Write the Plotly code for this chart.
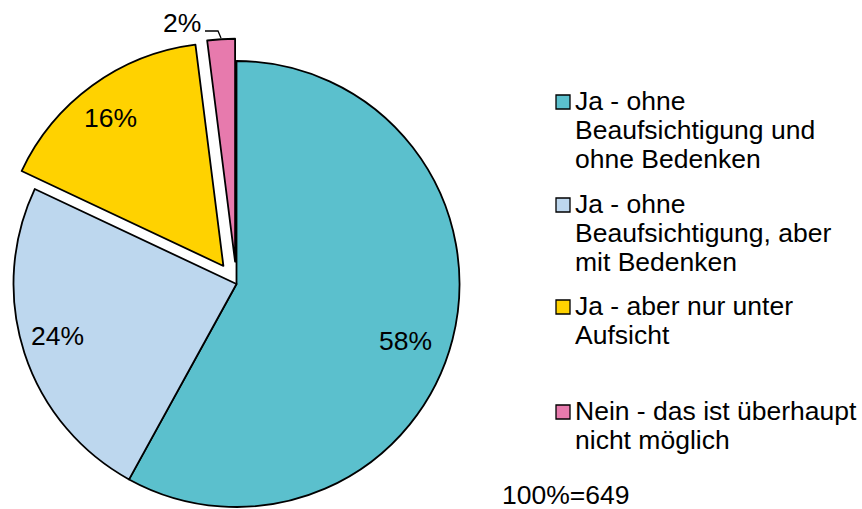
import math
import plotly.graph_objects as go

# ---------------- data ----------------
categories = [
    "Ja - ohne Beaufsichtigung und ohne Bedenken",
    "Ja - ohne Beaufsichtigung, aber mit Bedenken",
    "Ja - aber nur unter Aufsicht",
    "Nein - das ist überhaupt nicht möglich",
]
values = [58, 24, 16, 2]
value_labels = ["58%", "24%", "16%", "2%"]
legend_lines = [
    ["Ja - ohne", "Beaufsichtigung und", "ohne Bedenken"],
    ["Ja - ohne", "Beaufsichtigung, aber", "mit Bedenken"],
    ["Ja - aber nur unter", "Aufsicht"],
    ["Nein - das ist überhaupt", "nicht möglich"],
]
pulls = [0, 0, 0.1, 0.1]
total_label = "100%=649"

# ---------------- style / layout ----------------
colors = ["#5BC0CD", "#BDD7EE", "#FFD200", "#E77AAD"]
W, H = 862, 509
R = 223.0
CX, CY = 236.5, 284.0
FONT = "Liberation Sans, Arial, sans-serif"
FS = 26.5

label_pos = [(405, 341), (57.5, 336), (111, 118), (181.5, 23.5)]
legend_first_line_y = [101, 204, 306, 411]
line_step = 29
legend_text_x = 574
legend_sq_x = 563
footer_pos = (501, 495)


def px(x):
    return x / W


def py(y):
    return 1 - y / H


def clamp(v):
    return min(1.0, max(0.0, v))


total = sum(values)
cum = 0
offsets = []
for v, p in zip(values, pulls):
    mid = (cum + v / 2) / total * 2 * math.pi
    offsets.append((p * R * math.sin(mid), -p * R * math.cos(mid)))
    cum += v

# groups of slices sharing the same displacement
groups = [[i for i, p in enumerate(pulls) if p == 0]] + [[i] for i, p in enumerate(pulls) if p != 0]

fig = go.Figure()
for g in groups:
    dx, dy = offsets[g[0]]
    cx, cy = CX + dx, CY + dy
    fig.add_trace(go.Pie(
        labels=categories,
        values=values,
        sort=False,
        direction="clockwise",
        rotation=0,
        textinfo="none",
        hoverinfo="label+percent",
        showlegend=False,
        marker=dict(
            colors=[colors[i] if i in g else "rgba(0,0,0,0)" for i in range(len(values))],
            line=dict(
                color=["#000000" if i in g else "rgba(0,0,0,0)" for i in range(len(values))],
                width=[1.8 if i in g else 0 for i in range(len(values))],
            ),
        ),
        domain=dict(
            x=[clamp(px(cx - R)), clamp(px(cx + R))],
            y=[clamp(py(cy + R)), clamp(py(cy - R))],
        ),
    ))

annotations = []
for txt, (x, y) in zip(value_labels, label_pos):
    annotations.append(dict(
        x=px(x), y=py(y), xref="paper", yref="paper", text=txt, showarrow=False,
        xanchor="center", yanchor="middle", borderpad=0,
        font=dict(family=FONT, size=FS, color="#000000"),
    ))

shapes = [dict(
    type="path", xref="paper", yref="paper",
    path=f"M {px(205)} {py(31)} L {px(218)} {py(31)} L {px(221)} {py(38)}",
    line=dict(color="#000000", width=1.3),
)]

for i, lines in enumerate(legend_lines):
    y0 = legend_first_line_y[i]
    for k, line in enumerate(lines):
        annotations.append(dict(
            x=px(legend_text_x), y=py(y0 + k * line_step), xref="paper", yref="paper",
            text=line, showarrow=False, xanchor="left", yanchor="middle", borderpad=0,
            font=dict(family=FONT, size=FS, color="#000000"),
        ))
    sy = y0 + 1
    shapes.append(dict(
        type="rect", xref="paper", yref="paper",
        x0=px(legend_sq_x - 7), x1=px(legend_sq_x + 7), y0=py(sy + 7), y1=py(sy - 7),
        fillcolor=colors[i], line=dict(color="#000000", width=1.3),
    ))

annotations.append(dict(
    x=px(footer_pos[0]), y=py(footer_pos[1]), xref="paper", yref="paper",
    text=total_label, showarrow=False, xanchor="left", yanchor="middle", borderpad=0,
    font=dict(family=FONT, size=FS, color="#000000"),
))

fig.update_layout(
    width=W, height=H,
    margin=dict(l=0, r=0, t=0, b=0),
    paper_bgcolor="#FFFFFF",
    plot_bgcolor="#FFFFFF",
    annotations=annotations,
    shapes=shapes,
    font=dict(family=FONT, size=FS),
)

fig.write_html(
    "out.html",
    config={"displayModeBar": False},
    post_script="document.body.style.margin='0';document.body.style.overflow='hidden';",
)
